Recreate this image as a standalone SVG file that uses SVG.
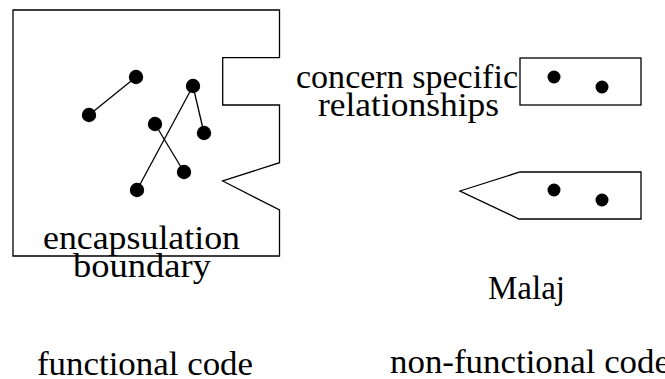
<svg xmlns="http://www.w3.org/2000/svg" width="665" height="379" viewBox="0 0 665 379">
  <style>
    .outline { fill: none; stroke: #000; stroke-width: 1.3; stroke-linejoin: miter; }
    .edge { stroke: #000; stroke-width: 1.3; fill: none; }
    .dot { fill: #000; }
    .label { font-family: "Liberation Serif", "Times New Roman", serif; font-size: 34px; fill: #000; }
  </style>
  <rect width="665" height="379" fill="#fff"/>

  <!-- Functional module: boundary with a slot and a V-shaped socket -->
  <g id="functional-module">
    <path class="outline" d="M13,10 H279.5 V57.7 H222.7 V105 H279.5 V162.7 L222.7,181 L279.5,210 V256 H13 Z"/>
  </g>

  <!-- Relationships among the functional elements -->
  <g id="connectors">
    <line class="edge" x1="89" y1="115" x2="136" y2="77"/>
    <line class="edge" x1="137" y1="190" x2="193" y2="86"/>
    <line class="edge" x1="193" y1="86" x2="204" y2="133"/>
    <line class="edge" x1="155" y1="124" x2="184" y2="172"/>
  </g>

  <g id="elements">
    <circle class="dot" cx="136" cy="77" r="7.2"/>
    <circle class="dot" cx="89" cy="115" r="7.2"/>
    <circle class="dot" cx="193" cy="86" r="7.2"/>
    <circle class="dot" cx="155" cy="124" r="7.2"/>
    <circle class="dot" cx="204" cy="133" r="7.2"/>
    <circle class="dot" cx="184" cy="172" r="7.2"/>
    <circle class="dot" cx="137" cy="190" r="7.2"/>
  </g>

  <g id="label-boundary">
    <text class="label" x="141.5" y="249" text-anchor="middle" textLength="197" lengthAdjust="spacingAndGlyphs">encapsulation</text>
    <text class="label" x="142" y="277" text-anchor="middle" textLength="138" lengthAdjust="spacingAndGlyphs">boundary</text>
  </g>

  <!-- Aspect pieces -->
  <g id="aspect-rect">
    <rect class="outline" x="520" y="58" width="121" height="47"/>
    <circle class="dot" cx="554" cy="77" r="6.5"/>
    <circle class="dot" cx="602" cy="87" r="6.5"/>
  </g>

  <g id="aspect-wedge">
    <path class="outline" d="M520,172 H641 V219 H519 L460,191 Z"/>
    <circle class="dot" cx="554" cy="190" r="6.5"/>
    <circle class="dot" cx="602" cy="200" r="6.5"/>
  </g>

  <g id="label-relationships">
    <text class="label" x="296" y="88" textLength="222" lengthAdjust="spacingAndGlyphs">concern specific</text>
    <text class="label" x="318" y="116" textLength="181" lengthAdjust="spacingAndGlyphs">relationships</text>
  </g>

  <g id="label-malaj">
    <text class="label" x="488" y="299" textLength="77" lengthAdjust="spacingAndGlyphs">Malaj</text>
  </g>

  <g id="captions">
    <text class="label" x="37" y="375" textLength="216" lengthAdjust="spacingAndGlyphs">functional code</text>
    <text class="label" x="390" y="373" textLength="280" lengthAdjust="spacingAndGlyphs">non-functional code</text>
  </g>
</svg>
